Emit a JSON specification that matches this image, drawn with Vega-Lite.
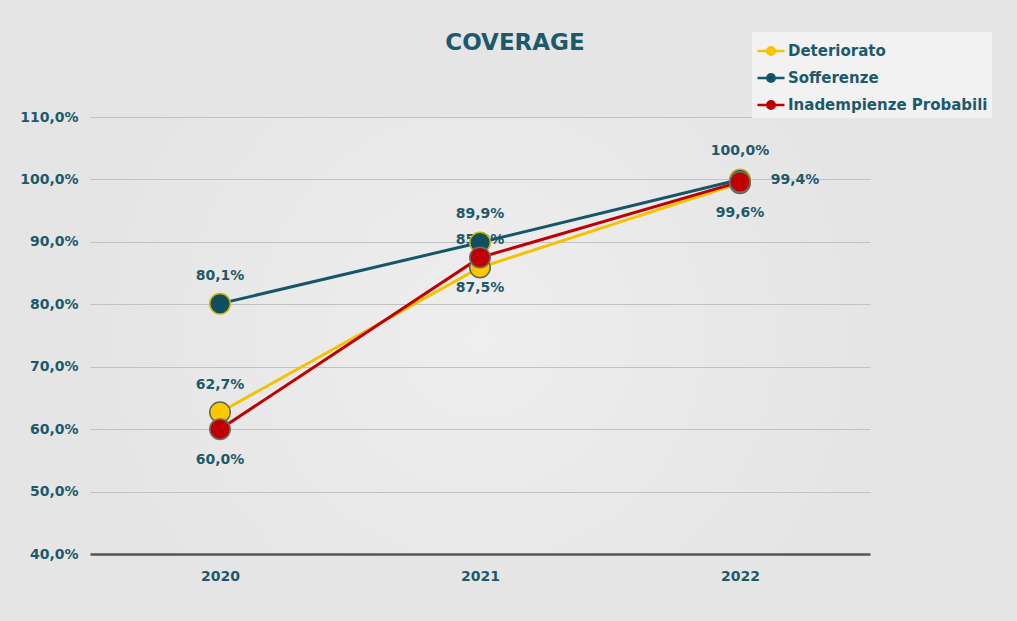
{
  "$schema": "https://vega.github.io/schema/vega-lite/v6.json",
  "autosize": {"type": "none"},
  "width": 780,
  "height": 437,
  "padding": {"left": 90, "top": 117, "right": 147, "bottom": 67},
  "background": "#e5e5e5",
  "title": {
    "text": "COVERAGE",
    "frame": "group",
    "font": "DejaVu Sans",
    "fontSize": 23,
    "fontWeight": "bold",
    "color": "#1c5a6b",
    "anchor": "middle",
    "dx": 35,
    "offset": -23
  },
  "config": {
    "view": {
      "stroke": null,
      "fill": {
        "gradient": "radial",
        "x1": 0.5, "y1": 0.5, "r1": 0,
        "x2": 0.5, "y2": 0.5, "r2": 0.5,
        "stops": [
          {"offset": 0, "color": "#eeeeee"},
          {"offset": 1, "color": "#e5e5e5"}
        ]
      }
    },
    "font": "DejaVu Sans"
  },
  "data": {
    "values": [
      {"year": "2020", "series": "Deteriorato", "v": 62.7},
      {"year": "2021", "series": "Deteriorato", "v": 85.9},
      {"year": "2022", "series": "Deteriorato", "v": 99.4},
      {"year": "2020", "series": "Sofferenze", "v": 80.1},
      {"year": "2021", "series": "Sofferenze", "v": 89.9},
      {"year": "2022", "series": "Sofferenze", "v": 100.0},
      {"year": "2020", "series": "Inadempienze Probabili", "v": 60.0},
      {"year": "2021", "series": "Inadempienze Probabili", "v": 87.5},
      {"year": "2022", "series": "Inadempienze Probabili", "v": 99.6}
    ]
  },
  "transform": [
    {"calculate": "replace(format(datum.v, '.1f'), '.', ',') + '%'", "as": "label"},
    {"calculate": "datum.series == 'Deteriorato' ? 0 : datum.series == 'Sofferenze' ? 1 : 2", "as": "ord"}
  ],
  "encoding": {
    "x": {
      "field": "year", "type": "ordinal",
      "scale": {"type": "point", "padding": 0.5},
      "axis": {
        "title": null, "labelAngle": 0, "ticks": false,
        "domain": true, "domainColor": "#555555", "domainWidth": 2.5,
        "labelFont": "DejaVu Sans", "labelFontSize": 14, "labelFontWeight": "bold",
        "labelColor": "#1c5a6b", "labelPadding": 15
      }
    },
    "y": {
      "field": "v", "type": "quantitative",
      "scale": {"domain": [40, 110], "nice": false, "zero": false},
      "axis": {
        "title": null, "values": [40, 50, 60, 70, 80, 90, 100, 110],
        "labelExpr": "replace(format(datum.value, '.1f'), '.', ',') + '%'",
        "ticks": false, "domain": false,
        "gridColor": "#c2c2c2", "gridWidth": 1,
        "labelFont": "DejaVu Sans", "labelFontSize": 14, "labelFontWeight": "bold",
        "labelColor": "#1c5a6b", "labelPadding": 12
      }
    }
  },
  "layer": [
    {
      "transform": [{"filter": "datum.series == 'Deteriorato' && datum.year != '2022'"}],
      "mark": {"type": "text", "dy": -27, "font": "DejaVu Sans", "fontSize": 14, "fontWeight": "bold", "color": "#1c5a6b"},
      "encoding": {"text": {"field": "label"}}
    },
    {
      "transform": [{"filter": "datum.series == 'Deteriorato' && datum.year == '2022'"}],
      "mark": {"type": "text", "dx": 55, "dy": -3, "font": "DejaVu Sans", "fontSize": 14, "fontWeight": "bold", "color": "#1c5a6b"},
      "encoding": {"text": {"field": "label"}}
    },
    {
      "transform": [{"filter": "datum.series == 'Sofferenze'"}],
      "mark": {"type": "text", "dy": -28, "font": "DejaVu Sans", "fontSize": 14, "fontWeight": "bold", "color": "#1c5a6b"},
      "encoding": {"text": {"field": "label"}}
    },
    {
      "transform": [{"filter": "datum.series == 'Inadempienze Probabili'"}],
      "mark": {"type": "text", "dy": 31, "font": "DejaVu Sans", "fontSize": 14, "fontWeight": "bold", "color": "#1c5a6b"},
      "encoding": {"text": {"field": "label"}}
    },
    {
      "mark": {"type": "line", "strokeWidth": 3},
      "encoding": {
        "color": {
          "field": "series", "type": "nominal",
          "scale": {
            "domain": ["Deteriorato", "Sofferenze", "Inadempienze Probabili"],
            "range": ["#f5c200", "#16566a", "#c00000"]
          },
          "legend": {
            "title": null,
            "orient": "none",
            "legendX": 662,
            "legendY": -85,
            "fillColor": "#f2f2f2",
            "padding": 4,
            "rowPadding": 3,
            "labelFont": "DejaVu Sans",
            "labelFontSize": 15,
            "labelFontWeight": "bold",
            "labelColor": "#1c5a6b",
            "labelOffset": 2,
            "labelLimit": 300,
            "symbolType": "M-1,0L-0.28,0M0.28,0L1,0M-0.28,0A0.28,0.28 0 1,1 0.28,0A0.28,0.28 0 1,1 -0.28,0Z",
            "symbolSize": 729,
            "symbolStrokeWidth": 2.5
          }
        },
        "order": {"field": "ord"}
      }
    },
    {
      "mark": {"type": "point", "filled": true, "size": 420, "opacity": 1, "strokeWidth": 1.5},
      "encoding": {
        "color": {"field": "series", "type": "nominal"},
        "fill": {
          "field": "series", "type": "nominal",
          "scale": {
            "domain": ["Deteriorato", "Sofferenze", "Inadempienze Probabili"],
            "range": ["#ffc700", "#0f4f60", "#c00000"]
          },
          "legend": null
        },
        "stroke": {
          "field": "series", "type": "nominal",
          "scale": {
            "domain": ["Deteriorato", "Sofferenze", "Inadempienze Probabili"],
            "range": ["#5a6a50", "#c9b400", "#6a7070"]
          },
          "legend": null
        },
        "order": {"field": "ord"}
      }
    }
  ]
}
